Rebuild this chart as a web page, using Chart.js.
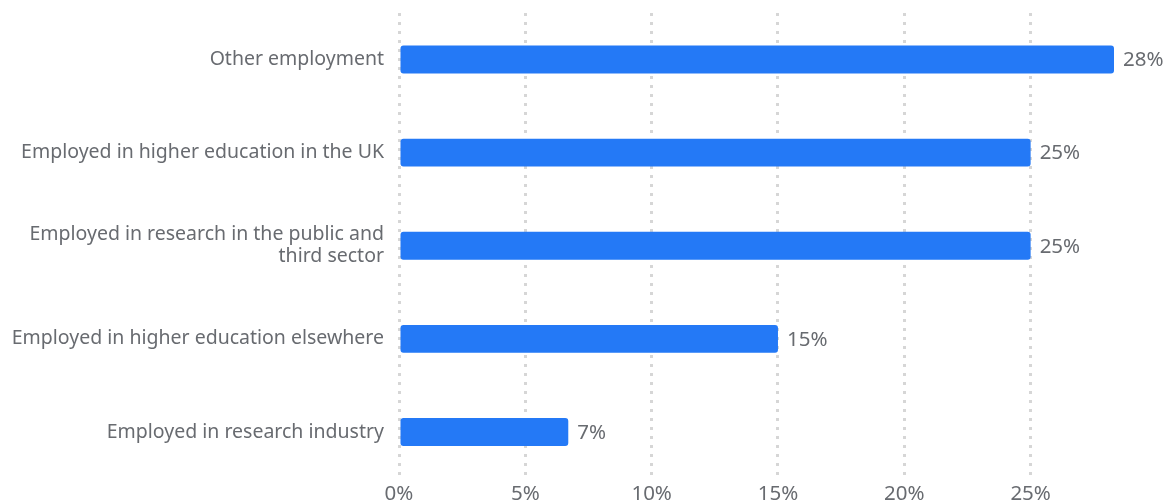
<!DOCTYPE html>
<html>
<head>
<meta charset="utf-8">
<script src="https://cdn.jsdelivr.net/npm/chart.js@4"></script>
<style>
  html, body { margin: 0; padding: 0; background: #fff; overflow: hidden; }
  #wrap { width: 1172px; height: 520px; }
</style>
</head>
<body>
<div id="wrap"><canvas id="destChart" width="1172" height="520"></canvas></div>
<script>
// categories (top to bottom) and share of leavers in each
const categories = [
  'Other employment',
  'Employed in higher education in the UK',
  ['Employed in research in the public and', 'third sector'],
  'Employed in higher education elsewhere',
  'Employed in research industry'
];
const shares = [28.3, 25, 25, 15, 6.7];
const tickSteps = [0, 5, 10, 15, 20, 25];

const textGrey = '#686b70';
const barBlue = '#2479f6';
const fontFamily = '"Noto Sans", "Open Sans", sans-serif';

// writes the rounded percentage just past the end of each bar
const valueLabels = {
  id: 'valueLabels',
  afterDatasetsDraw(chart) {
    const ctx = chart.ctx;
    const meta = chart.getDatasetMeta(0);
    ctx.save();
    ctx.font = '20.5px ' + fontFamily;
    ctx.fillStyle = textGrey;
    ctx.textAlign = 'left';
    ctx.textBaseline = 'middle';
    meta.data.forEach((bar, i) => {
      const v = chart.data.datasets[0].data[i];
      ctx.fillText(Math.round(v) + '%', bar.x + 9, bar.y + 1);
    });
    ctx.restore();
  }
};

const config = {
  type: 'bar',
  data: {
    labels: categories,
    datasets: [{
      data: shares,
      backgroundColor: barBlue,
      borderRadius: 3,
      borderSkipped: false,
      barPercentage: 1,
      categoryPercentage: 0.3
    }]
  },
  options: {
    indexAxis: 'y',
    responsive: false,
    animation: false,
    devicePixelRatio: 1,
    layout: { padding: { top: 13, right: 58, left: 0, bottom: 0 } },
    plugins: {
      legend: { display: false },
      tooltip: { enabled: false }
    },
    scales: {
      x: {
        min: 0,
        max: Math.max(...shares),
        afterBuildTicks: (scale) => {
          scale.ticks = tickSteps.map(v => ({ value: v }));
        },
        afterFit: (scale) => { scale.height = 41.5; },
        border: { display: false, dash: [3, 6] },
        grid: {
          color: '#d6d6d6',
          lineWidth: 3,
          drawTicks: false
        },
        ticks: {
          padding: 3,
          color: textGrey,
          font: { size: 20.5, family: fontFamily },
          callback: (v) => v + '%'
        }
      },
      y: {
        afterFit: (scale) => {
          // fixed label column, no extra room for the tall two-line label
          scale.width = 399;
          scale.paddingTop = 0;
          scale.paddingBottom = 0;
        },
        border: { display: false },
        grid: { display: false, drawTicks: false },
        ticks: {
          padding: 15,
          color: textGrey,
          font: { size: 19.5, family: fontFamily, lineHeight: 1.13 }
        }
      }
    }
  },
  plugins: [valueLabels]
};

new Chart(document.getElementById('destChart'), config);
</script>
</body>
</html>
